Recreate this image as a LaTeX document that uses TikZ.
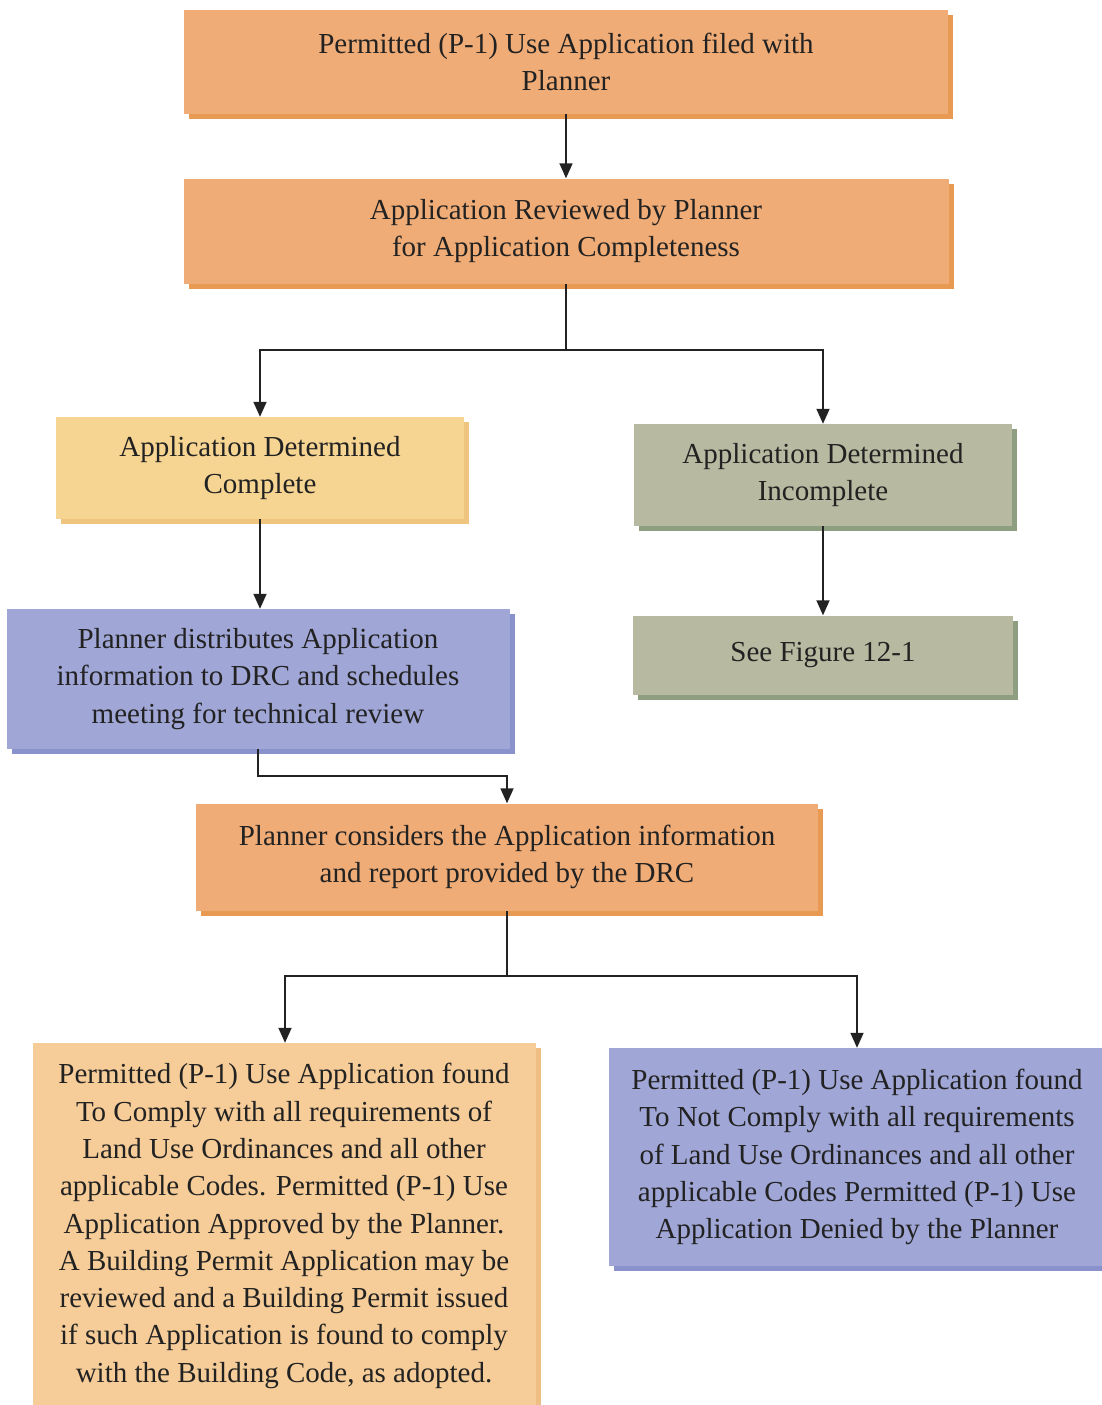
\documentclass[tikz,border=0pt]{standalone}
\usepackage{fontspec}
\setmainfont{Liberation Serif}
\usetikzlibrary{shadows,arrows.meta}
\definecolor{orfill}{HTML}{F0AC76}
\definecolor{orshadow}{HTML}{E89A52}
\definecolor{yefill}{HTML}{F6D492}
\definecolor{yeshadow}{HTML}{EEC47E}
\definecolor{grfill}{HTML}{B7BAA0}
\definecolor{grshadow}{HTML}{8E9E80}
\definecolor{blfill}{HTML}{A0A6D6}
\definecolor{blshadow}{HTML}{8A92CC}
\definecolor{pefill}{HTML}{F6CC98}
\definecolor{peshadow}{HTML}{EEBE82}
\definecolor{txt}{HTML}{222222}
\begin{document}
\begin{tikzpicture}[x=1pt,y=-1pt,
  box/.style={rectangle,inner sep=0pt,align=center,text=txt,
    font=\fontsize{29}{37.3}\selectfont},
  orbox/.style={box,fill=orfill,drop shadow={shadow xshift=5pt,shadow yshift=-5pt,opacity=1,fill=orshadow}},
  yebox/.style={box,fill=yefill,drop shadow={shadow xshift=5pt,shadow yshift=-5pt,opacity=1,fill=yeshadow}},
  grbox/.style={box,fill=grfill,drop shadow={shadow xshift=5pt,shadow yshift=-5pt,opacity=1,fill=grshadow}},
  blbox/.style={box,fill=blfill,drop shadow={shadow xshift=5pt,shadow yshift=-5pt,opacity=1,fill=blshadow}},
  pebox/.style={box,fill=pefill,drop shadow={shadow xshift=5pt,shadow yshift=-5pt,opacity=1,fill=peshadow}},
  conn/.style={draw=txt,line width=1.6pt},
  arr/.style={conn,-{Triangle[length=15pt,width=13pt]}}]
\useasboundingbox[fill=white] (0,0) rectangle (1102,1405);

\node[orbox,minimum width=764pt,minimum height=104pt] (b1) at (566,62)
  {Permitted (P-1) Use Application filed with\\Planner};
\node[orbox,minimum width=765pt,minimum height=105pt] (b2) at (566,231)
  {Application Reviewed by Planner\\for Application Completeness};
\node[yebox,minimum width=408pt,minimum height=102pt] (b3) at (260,468)
  {Application Determined\\Complete};
\node[grbox,minimum width=378pt,minimum height=102pt] (b4) at (823,475)
  {Application Determined\\Incomplete};
\node[grbox,minimum width=380pt,minimum height=79pt] (b5) at (823,655)
  {See Figure 12-1};
\node[blbox,minimum width=503pt,minimum height=140pt] (b6) at (258,679)
  {Planner distributes Application\\information to DRC and schedules\\meeting for technical review};
\node[orbox,minimum width=622pt,minimum height=107pt] (b7) at (507,857)
  {Planner considers the Application information\\and report provided by the DRC};
\node[pebox,minimum width=503pt,minimum height=366pt] (b8) at (284,1226)
  {Permitted (P-1) Use Application found\\To Comply with all requirements of\\Land Use Ordinances and all other\\applicable Codes. Permitted (P-1) Use\\Application Approved by the Planner.\\A Building Permit Application may be\\reviewed and a Building Permit issued\\if such Application is found to comply\\with the Building Code, as adopted.};
\node[blbox,minimum width=497pt,minimum height=218pt] (b9) at (857,1157)
  {Permitted (P-1) Use Application found\\To Not Comply with all requirements\\of Land Use Ordinances and all other\\applicable Codes Permitted (P-1) Use\\Application Denied by the Planner};

\draw[arr] (b1) -- (b2);
\draw[conn] (b2.south) -- ++(0,66) coordinate (j1);
\draw[arr] (j1) -| (b3.north);
\draw[arr] (j1) -| (b4.north);
\draw[arr] (b3.south) -- (b3.south |- b6.north);
\draw[arr] (b4) -- (b5);
\draw[arr] (b6.south) -- ++(0,27) -| (b7.north);
\draw[conn] (b7.south) -- ++(0,65) coordinate (j2);
\draw[arr] (j2) -| (b8.north -| 285,0);
\draw[arr] (j2) -| (b9.north);
\end{tikzpicture}
\end{document}
